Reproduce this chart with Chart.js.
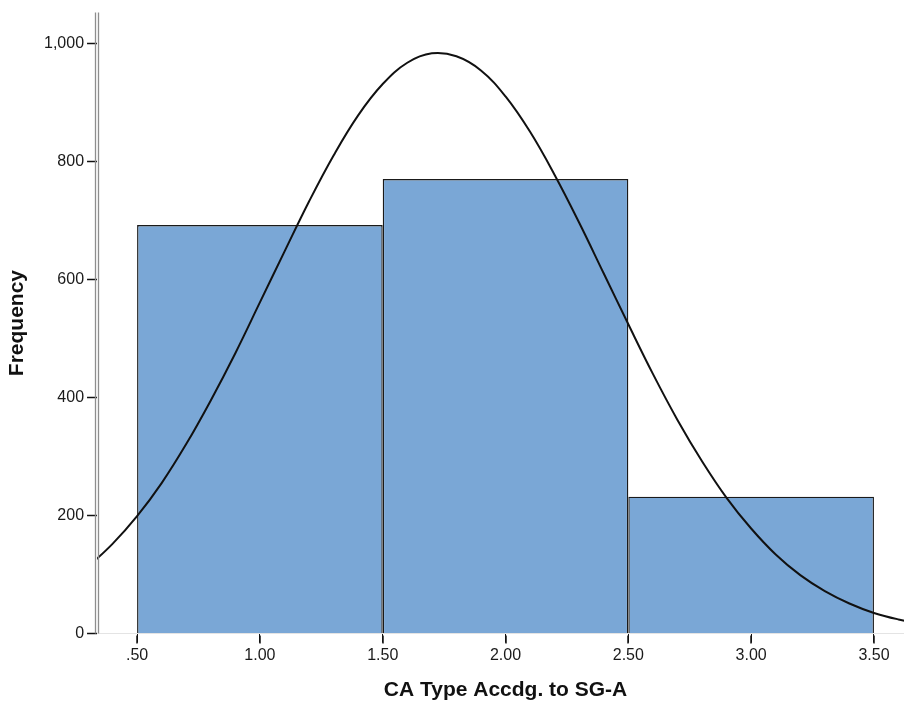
<!DOCTYPE html>
<html>
<head>
<meta charset="utf-8">
<script src="https://cdn.jsdelivr.net/npm/chart.js@4/dist/chart.umd.min.js"></script>
<style>
  html, body { margin: 0; padding: 0; background: #fff; overflow: hidden; }
  #wrap { position: relative; width: 914px; height: 702px; }
</style>
</head>
<body>
<div id="wrap"><canvas id="c"></canvas></div>
<script>
// ---- data ----
const binCenters = [1, 2, 3];
const binCounts = [692, 770, 232];
const binWidth = 1;

const curveX = [0.3,0.4,0.5,0.6,0.7,0.8,0.9,1.0,1.1,1.2,1.3,1.4,1.5,1.6,1.7,1.8,1.9,2.0,2.1,2.2,2.3,2.4,2.5,2.6,2.7,2.8,2.9,3.0,3.1,3.2,3.3,3.4,3.5,3.6,3.7];
const curveY = [113,152,199,255,321,395,475,561,647,732,810,878,931,967,983,978,954,910,850,777,696,610,524,440,362,292,230,178,134,99,72,51,35,24,16];

const xTicks = [0.5, 1.0, 1.5, 2.0, 2.5, 3.0, 3.5];
const xTickLabels = [".50", "1.00", "1.50", "2.00", "2.50", "3.00", "3.50"];
const yTicks = [0, 200, 400, 600, 800, 1000];
const yTickLabels = ["0", "200", "400", "600", "800", "1,000"];

const xTitle = "CA Type Accdg. to SG-A";
const yTitle = "Frequency";

// ---- chart ----
const tickStep = xTicks[1] - xTicks[0];
const FONT = "'Liberation Sans', Arial, sans-serif";

// axis decorations: SPSS-style double y-axis line and outward x tick marks
const axisDecor = {
  id: 'axisDecor',
  afterDraw(chart) {
    const ctx = chart.ctx;
    const area = chart.chartArea;
    const xs = chart.scales.x;
    ctx.save();
    ctx.strokeStyle = '#8e8e8e';
    ctx.lineWidth = 1.3;
    const lx = Math.round(area.left);
    [lx - 1.5, lx + 1.5].forEach(px => {
      ctx.beginPath();
      ctx.moveTo(px, area.top);
      ctx.lineTo(px, area.bottom);
      ctx.stroke();
    });
    ctx.strokeStyle = '#111';
    ctx.lineWidth = 1.5;
    xs.ticks.forEach((t, i) => {
      const px = Math.round(xs.getPixelForTick(i));
      ctx.beginPath();
      ctx.moveTo(px, area.bottom + 2);
      ctx.lineTo(px, area.bottom + 10);
      ctx.stroke();
    });
    ctx.restore();
  }
};

new Chart(document.getElementById('c'), {
  data: {
    datasets: [
      {
        type: 'line',
        data: curveX.map((x, i) => ({ x: x, y: curveY[i] })),
        borderColor: '#111111',
        borderWidth: 2,
        pointRadius: 0,
        tension: 0.4,
        fill: false,
        order: 0
      },
      {
        type: 'bar',
        data: binCenters.map((x, i) => ({ x: x, y: binCounts[i] })),
        backgroundColor: '#7aa7d6',
        borderColor: '#1a1a1a',
        borderWidth: 1.4,
        categoryPercentage: 1,
        barPercentage: binWidth / tickStep,
        grouped: false,
        order: 1
      }
    ]
  },
  plugins: [axisDecor],
  options: {
    responsive: true,
    maintainAspectRatio: false,
    animation: false,
    layout: { padding: { top: 12, left: 0, right: 0, bottom: 0 } },
    plugins: { legend: { display: false }, tooltip: { enabled: false } },
    scales: {
      x: {
        type: 'linear',
        offset: false,
        min: 0.337,
        max: 3.663,
        afterBuildTicks: (s) => { s.ticks = xTicks.map(v => ({ value: v })); },
        ticks: {
          callback: (v, i) => xTickLabels[i],
          font: { family: FONT, size: 16 },
          color: '#1a1a1a',
          padding: 3,
          maxRotation: 0,
          autoSkip: false
        },
        grid: { offset: false, drawOnChartArea: false, drawTicks: true, tickLength: 9, tickColor: '#111', tickWidth: 1 },
        border: { display: true, color: '#e4e4e4', width: 1 },
        title: {
          display: true,
          text: xTitle,
          font: { family: FONT, size: 21, weight: 'bold' },
          color: '#111',
          padding: { top: 10, bottom: -1 }
        }
      },
      y: {
        type: 'linear',
        min: 0,
        max: 1052,
        afterBuildTicks: (s) => { s.ticks = yTicks.map(v => ({ value: v })); },
        ticks: {
          callback: (v, i) => yTickLabels[i],
          font: { family: FONT, size: 16 },
          color: '#1a1a1a',
          padding: 3
        },
        grid: { drawOnChartArea: false, drawTicks: true, tickLength: 10, tickColor: '#111', tickWidth: 1.5 },
        border: { display: false },
        title: {
          display: true,
          text: yTitle,
          font: { family: FONT, size: 21, weight: 'bold' },
          color: '#111',
          padding: { top: 4.4, bottom: 11.4 }
        }
      }
    }
  }
});
</script>
</body>
</html>
